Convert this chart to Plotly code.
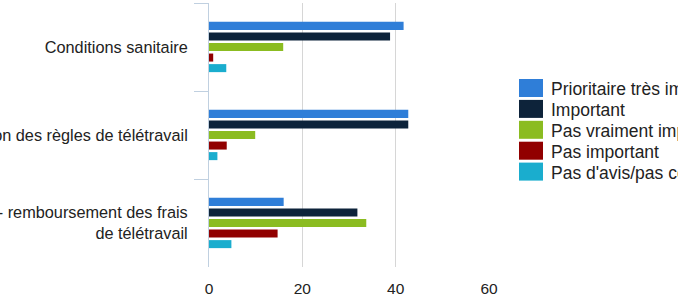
import plotly.graph_objects as go

categories = [
    "Conditions sanitaire",
    "Harmonisation des règles de télétravail",
    "Prise en charge - remboursement des frais<br>de télétravail",
]
series_names = [
    "Prioritaire très important",
    "Important",
    "Pas vraiment important",
    "Pas important",
    "Pas d'avis/pas concerné",
]
prioritaire = [41.7, 42.7, 16.0]
important = [38.8, 42.7, 31.8]
pas_vraiment = [15.9, 9.9, 33.7]
pas_important = [0.9, 3.8, 14.7]
sans_avis = [3.7, 1.8, 4.8]
series_values = [prioritaire, important, pas_vraiment, pas_important, sans_avis]
colors = ["#2f7ed8", "#0d233a", "#8bbc21", "#910000", "#1aadce"]
x_ticks = [0, 20, 40, 60]

W, H = 678, 303
ML, MR, MT, MB = 209, 189, 3, 36
PW = W - ML - MR
PH = H - MT - MB
FONT = "Liberation Sans, Arial, sans-serif"
TXT = "#222222"

fig = go.Figure()
for name, vals, col in zip(series_names, series_values, colors):
    fig.add_trace(go.Bar(
        y=categories, x=vals, name=name, orientation="h",
        marker=dict(color=col, line=dict(width=0)),
        showlegend=False,
    ))

def px_x(p):
    return (p - ML) / PW

def px_y(p):
    return (H - MB - p) / PH

shapes = []
annotations = []
for i, (name, col) in enumerate(zip(series_names, colors)):
    top = 79 + 20.9 * i
    shapes.append(dict(type="rect", xref="paper", yref="paper",
                       x0=px_x(519), x1=px_x(543), y0=px_y(top + 18), y1=px_y(top),
                       fillcolor=col, line=dict(width=0)))
    annotations.append(dict(xref="paper", yref="paper", x=px_x(548.5), y=px_y(top + 10),
                            xanchor="left", yanchor="middle", showarrow=False,
                            text=name, font=dict(family=FONT, size=17.5, color=TXT)))

fig.update_layout(
    width=W, height=H,
    margin=dict(l=ML, r=MR, t=MT, b=MB, pad=0),
    paper_bgcolor="white", plot_bgcolor="white",
    barmode="group", bargap=0.40, bargroupgap=0.24,
    font=dict(family=FONT, size=16, color=TXT),
    shapes=shapes, annotations=annotations,
    xaxis=dict(range=[0, 60], tickvals=x_ticks, showgrid=True, gridcolor="#d6d6d6",
               gridwidth=1, zeroline=False, showline=False, ticks="",
               ticklabelstandoff=10, tickfont=dict(size=15.5, color=TXT),
               automargin=False, fixedrange=True),
    yaxis=dict(type="category", autorange="reversed", tickson="boundaries",
               ticks="outside", ticklen=14, tickcolor="#c0d0e0", tickwidth=1,
               showline=True, linecolor="#c0d0e0", linewidth=1, showgrid=False,
               ticklabelstandoff=17,
               tickfont=dict(size=16.3, color=TXT), automargin=False, fixedrange=True),
)

fig.write_html("out.html")
